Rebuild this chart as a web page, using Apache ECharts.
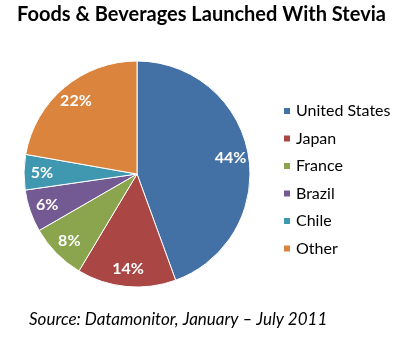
<!DOCTYPE html>
<html>
<head>
<meta charset="utf-8">
<script src="https://cdn.jsdelivr.net/npm/echarts@6/dist/echarts.min.js"></script>
<style>
  html, body { margin: 0; padding: 0; background: #fff; }
  #chart { width: 403px; height: 342px; }
</style>
</head>
<body>
<div id="chart"></div>
<script>
// Share of stevia product launches by country (percent)
const countries = ['United States', 'Japan', 'France', 'Brazil', 'Chile', 'Other'];
const shares = [44, 14, 8, 6, 5, 22];
const sliceColors = ['#4370A5', '#AA4643', '#8AA54E', '#735A92', '#3F98B0', '#DB843D'];

const pieData = countries.map((name, i) => ({
  name: name,
  value: shares[i],
  itemStyle: { color: sliceColors[i] }
}));

const chart = echarts.init(document.getElementById('chart'), null, { renderer: 'canvas' });

chart.setOption({
  backgroundColor: '#ffffff',
  animation: false,
  title: [
    {
      text: 'Foods & Beverages Launched With Stevia',
      left: 'center',
      top: 5,
      padding: 0,
      textStyle: {
        fontFamily: 'Lato',
        fontWeight: 'bold',
        fontSize: 20,
        color: '#000'
      }
    },
    {
      text: 'Source: Datamonitor, January \u2013 July 2011',
      left: 29,
      top: 311,
      padding: 0,
      textStyle: {
        fontFamily: 'Lato',
        fontStyle: 'italic',
        fontWeight: 'normal',
        fontSize: 17,
        color: '#000'
      }
    }
  ],
  legend: {
    orient: 'vertical',
    left: 282,
    top: 103,
    padding: 0,
    icon: 'rect',
    itemWidth: 8,
    itemHeight: 8,
    itemGap: 11.5,
    data: countries,
    textStyle: {
      fontFamily: 'Lato',
      fontSize: 16,
      lineHeight: 16,
      color: '#000'
    }
  },
  series: [
    {
      // filled slices
      type: 'pie',
      center: [137, 174],
      radius: [0, 113],
      startAngle: 90,
      clockwise: true,
      silent: true,
      label: { show: false },
      labelLine: { show: false },
      itemStyle: { borderColor: '#ffffff', borderWidth: 1 },
      data: pieData
    },
    {
      // percentage labels placed along a ring inside the slices
      type: 'pie',
      center: [137, 174],
      radius: [71, 113],
      startAngle: 90,
      clockwise: true,
      silent: true,
      legendHoverLink: false,
      itemStyle: { color: 'rgba(0,0,0,0)' },
      label: {
        show: true,
        position: 'inside',
        formatter: '{c}%',
        color: '#ffffff',
        fontFamily: 'Lato',
        fontWeight: 'bold',
        fontSize: 16
      },
      labelLine: { show: false },
      data: countries.map((name, i) => ({ name: name, value: shares[i] }))
    }
  ]
});
</script>
</body>
</html>
